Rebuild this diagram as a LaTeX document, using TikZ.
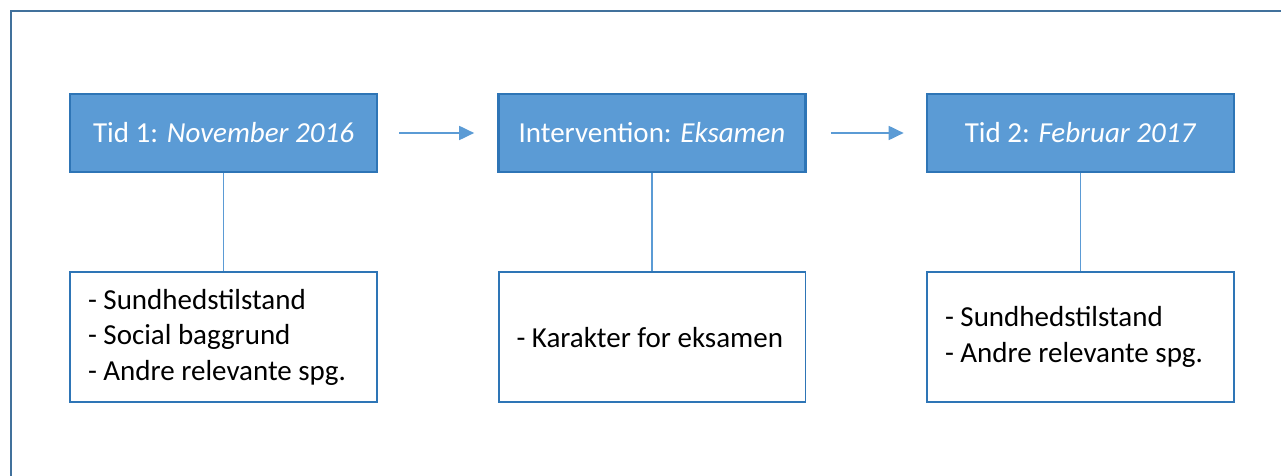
\documentclass[tikz,border=0pt]{standalone}
\usepackage{fontspec}
\setmainfont{Carlito}
\usetikzlibrary{arrows.meta, positioning}
\definecolor{boxblue}{HTML}{5B9BD5}
\definecolor{edgeblue}{HTML}{2E75B6}
\definecolor{framecol}{HTML}{41719C}

\begin{document}
\begin{tikzpicture}[x=0.02cm, y=-0.02cm,
    timebox/.style={rectangle, draw=edgeblue, line width=1.6pt, fill=boxblue,
      minimum width=6.14cm, minimum height=1.56cm, text=white,
      font=\fontsize{16.5}{20.4}\selectfont},
    infobox/.style={rectangle, draw=edgeblue, line width=1.1pt, fill=white,
      minimum width=6.14cm, minimum height=2.6cm, text width=5.6cm,
      inner xsep=0.27cm, align=flush left, font=\fontsize{16.5}{20.4}\selectfont},
    link/.style={boxblue, line width=0.7pt},
    flow/.style={boxblue, line width=0.9pt, -{Triangle[length=8.5pt, width=8pt]}}]
  \useasboundingbox (0,0) rectangle (1281,476);
  % outer frame
  \draw[framecol, line width=1.2pt] (11,476) -- (11,11) -- (1281,11);

  % time points
  \node[timebox] (t1) at (223.5,133) {Tid 1: \textit{November 2016}};
  \node[timebox] (t2) at (652,133) {Intervention: \textit{Eksamen}};
  \node[timebox] (t3) at (1080.5,133) {Tid 2: \textit{Februar 2017}};

  % measurements
  \node[infobox, below=1.96cm of t1] (m1)
    {\hspace*{0.09cm}- Sundhedstilstand\\\hspace*{0.09cm}- Social baggrund\\\hspace*{0.09cm}- Andre relevante spg.};
  \node[infobox, below=1.96cm of t2] (m2) {\hspace*{0.09cm}- Karakter for eksamen};
  \node[infobox, below=1.96cm of t3] (m3)
    {\hspace*{0.09cm}- Sundhedstilstand\\\hspace*{0.09cm}- Andre relevante spg.};

  \foreach \i in {1,2,3} {
    \draw[link] (t\i) -- (m\i);
  }
  \draw[flow, shorten <=0.42cm, shorten >=0.46cm] (t1) -- (t2);
  \draw[flow, shorten <=0.48cm, shorten >=0.44cm] (t2) -- (t3);
\end{tikzpicture}
\end{document}
